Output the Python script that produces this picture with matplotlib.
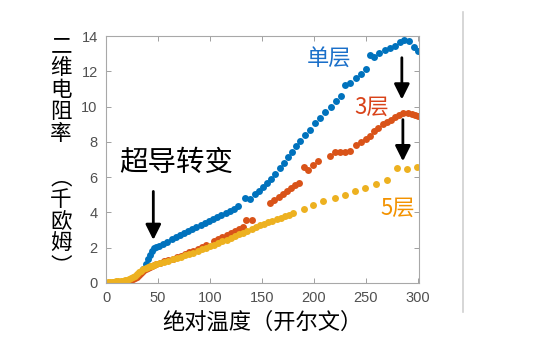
import matplotlib
matplotlib.use('Agg')
import matplotlib.pyplot as plt
from matplotlib.lines import Line2D

plt.rcParams['font.family'] = ['Noto Sans CJK SC', 'DejaVu Sans']

# 单层
t1 = [2, 4, 6, 8, 10, 12, 14, 16, 18, 20, 22, 24, 26, 28, 30, 32, 34, 36, 38, 40,
      42, 44, 46, 48, 51, 55, 59, 63, 67, 71, 75, 79, 83, 87, 91, 95, 99, 103, 107,
      111, 115, 119, 123, 127, 134, 138, 143, 147, 151, 155, 159, 163, 167, 171,
      175, 179, 183, 187, 191, 196, 201, 206, 211, 216, 221, 226, 230, 235, 240,
      245, 250, 254, 258, 263, 268, 273, 278, 283, 287, 291, 296, 300]
r1 = [0.02, 0.02, 0.02, 0.03, 0.03, 0.04, 0.06, 0.08, 0.10, 0.13, 0.17, 0.22, 0.28,
      0.35, 0.42, 0.50, 0.62, 0.80, 1.05, 1.35, 1.60, 1.82, 1.98, 2.06, 2.12, 2.22,
      2.35, 2.48, 2.60, 2.72, 2.84, 2.95, 3.06, 3.17, 3.28, 3.40, 3.50, 3.62, 3.74,
      3.86, 3.98, 4.10, 4.22, 4.35, 4.80, 4.78, 5.05, 5.20, 5.42, 5.65, 5.90, 6.20,
      6.50, 6.80, 7.15, 7.45, 7.75, 8.05, 8.40, 8.70, 9.05, 9.35, 9.70, 9.98, 10.30,
      10.60, 11.20, 11.35, 11.60, 11.85, 12.15, 12.90, 12.80, 13.05, 13.20, 13.30,
      13.45, 13.65, 13.75, 13.70, 13.40, 13.15]

# 3层
t3 = [2, 4, 6, 8, 10, 12, 14, 16, 18, 20, 22, 24, 26, 28, 30, 32, 34, 36, 38, 40,
      42, 44, 46, 48, 52, 56, 60, 64, 68, 72, 76, 80, 84, 88, 92, 96, 104, 108, 112,
      116, 120, 124, 128, 132, 135, 140, 158, 162, 166, 170, 174, 178, 182, 186,
      190, 194, 199, 204, 215, 220, 225, 230, 235, 240, 245, 250, 254, 258, 262,
      266, 270, 274, 278, 282, 286, 290, 294, 297, 300]
r3 = [0.00, 0.00, 0.00, 0.01, 0.01, 0.02, 0.03, 0.04, 0.06, 0.08, 0.11, 0.15, 0.20,
      0.27, 0.35, 0.45, 0.56, 0.68, 0.78, 0.86, 0.92, 0.97, 1.02, 1.06, 1.14, 1.22,
      1.30, 1.38, 1.46, 1.55, 1.64, 1.73, 1.82, 1.92, 2.06, 2.14, 2.40, 2.48, 2.58,
      2.72, 2.84, 2.95, 3.08, 3.20, 3.56, 3.56, 4.55, 4.72, 4.88, 5.05, 5.22, 5.40,
      5.55, 5.68, 6.55, 6.42, 6.68, 6.90, 7.20, 7.42, 7.40, 7.45, 7.50, 7.80, 7.98,
      8.15, 8.35, 8.60, 8.80, 9.00, 9.12, 9.22, 9.40, 9.55, 9.65, 9.62, 9.60, 9.55,
      9.47]

# 5层
t5 = [2, 4, 6, 8, 10, 12, 14, 16, 18, 20, 22, 24, 26, 28, 30, 32, 34, 36, 38, 40,
      42, 44, 46, 48, 52, 56, 60, 64, 68, 72, 76, 80, 84, 88, 92, 96, 100, 104, 108,
      112, 116, 120, 124, 128, 132, 136, 140, 144, 148, 152, 156, 160, 164, 168,
      172, 176, 180, 190, 199, 209, 220, 230, 239, 249, 260, 270, 280, 289, 299]
r5 = [0.05, 0.06, 0.07, 0.08, 0.09, 0.10, 0.12, 0.14, 0.16, 0.19, 0.23, 0.28, 0.34,
      0.42, 0.50, 0.60, 0.70, 0.78, 0.85, 0.90, 0.95, 0.99, 1.03, 1.07, 1.13, 1.20,
      1.27, 1.34, 1.41, 1.48, 1.56, 1.64, 1.72, 1.80, 1.90, 1.99, 2.08, 2.17, 2.26,
      2.36, 2.46, 2.56, 2.66, 2.76, 2.86, 2.96, 3.06, 3.16, 3.26, 3.36, 3.45, 3.54,
      3.62, 3.70, 3.78, 3.86, 3.94, 4.20, 4.42, 4.62, 4.80, 5.00, 5.19, 5.38, 5.60,
      5.85, 6.50, 6.48, 6.57]

xticks = [0, 50, 100, 150, 200, 250, 300]
yticks = [0, 2, 4, 6, 8, 10, 12, 14]

blue = '#0072BD'
orange = '#D95319'
yellow = '#EDB120'

fig = plt.figure(figsize=(5.37, 3.54), dpi=100)
ax = fig.add_axes([106 / 537, 1 - 283 / 354, 313 / 537, 247 / 354])

ms = 5.0
ax.plot(t1, r1, 'o', color=blue, ms=ms, mew=0)
ax.plot(t3, r3, 'o', color=orange, ms=ms, mew=0)
ax.plot(t5, r5, 'o', color=yellow, ms=ms, mew=0)

ax.set_xlim(0, 301)
ax.set_ylim(0, 14)
ax.set_xticks(xticks)
ax.set_yticks(yticks)
ax.tick_params(direction='in', top=True, right=True, length=3.5, width=0.7,
               colors='#a0a0a0', labelcolor='#505050', labelsize=10.5, pad=6)
for lab in ax.get_xticklabels() + ax.get_yticklabels():
    lab.set_family('Liberation Sans')
for s in ax.spines.values():
    s.set_color('#a8a8a8')
    s.set_linewidth(0.8)

ax.set_xlabel('绝对温度（开尔文）', fontsize=16, fontweight='medium', labelpad=4)

# vertical y label, one character per cell
ylab = ['二', '维', '电', '阻', '率', '\u3000', '︵', '千', '欧', '姆', '︶']
for i, ch in enumerate(ylab):
    fig.text(61 / 537, 1 - (46 + 22 * i) / 354, ch, fontsize=15.5,
             fontweight='medium', ha='center', va='center')

ax.text(214, 12.7, '单层', color='#1a6fc9', fontsize=16, fontweight='medium',
        ha='center', va='center')
ax.text(255.5, 9.97, '3层', color='#d9431a', fontsize=16, fontweight='medium',
        ha='center', va='center')
ax.text(281, 4.26, '5层', color='#f39200', fontsize=16, fontweight='medium',
        ha='center', va='center')
ax.text(68, 6.8, '超导转变', color='k', fontsize=20.5, fontweight='medium',
        ha='center', va='center')

arw = dict(arrowstyle='-|>', color='k', lw=2, mutation_scale=23, shrinkA=0, shrinkB=0)
ax.annotate('', xy=(45.5, 2.44), xytext=(45.5, 5.19), arrowprops=arw)
ax.annotate('', xy=(284.5, 10.4), xytext=(284.5, 12.77), arrowprops=arw)
ax.annotate('', xy=(285.5, 6.9), xytext=(285.5, 9.26), arrowprops=arw)

fig.add_artist(Line2D([463 / 537, 463 / 537], [1 - 12 / 354, 1 - 312 / 354],
                      color='#d0d0d0', lw=1.2))

fig.savefig('out.png', dpi=100)
